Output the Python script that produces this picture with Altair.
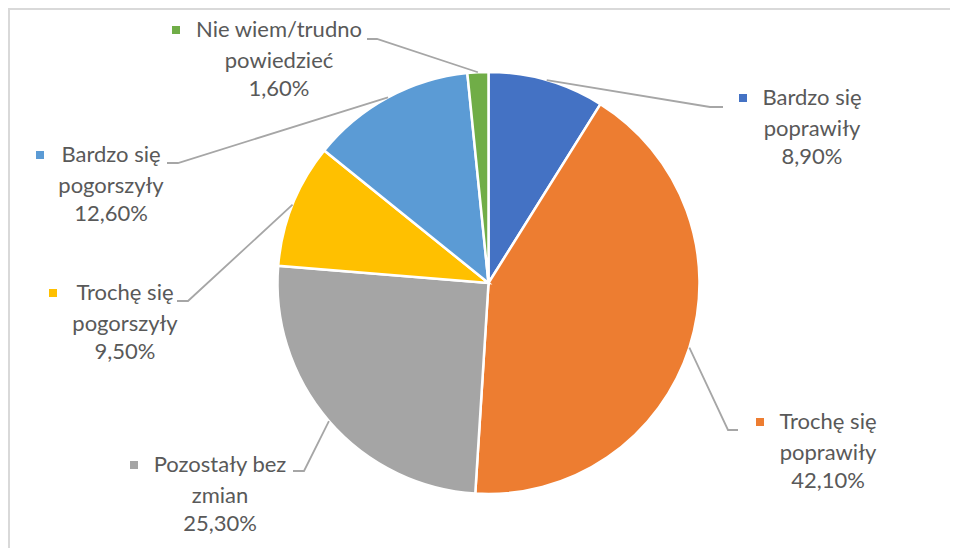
import math
import altair as alt
import pandas as pd

# ---- data ----
categories = ["Bardzo się poprawiły", "Trochę się poprawiły", "Pozostały bez zmian",
              "Trochę się pogorszyły", "Bardzo się pogorszyły", "Nie wiem/trudno powiedzieć"]
name_lines = [["Bardzo się", "poprawiły"], ["Trochę się", "poprawiły"], ["Pozostały bez", "zmian"],
              ["Trochę się", "pogorszyły"], ["Bardzo się", "pogorszyły"], ["Nie wiem/trudno", "powiedzieć"]]
values = [8.9, 42.1, 25.3, 9.5, 12.6, 1.6]
colors = ["#4472C4", "#ED7D31", "#A5A5A5", "#FFC000", "#5B9BD5", "#70AD47"]

# ---- layout (page pixels) ----
M = 8
W, H = 942, 540
CX, CY, R = 488.5, 283, 211
label_cx = [812, 828, 220, 125, 111, 279]
label_y = [98, 422, 465, 293, 155, 30]
marker_x = [743, 760, 134, 53, 40, 176]
elbow = [(710, 107), (728, 430), (304, 471), (188, 301), (178, 163), (377, 39)]
leader_end = [(723, 107), (738, 430), (293, 471), (177, 301), (167, 163), (367, 39)]
line_dy = [0, 31, 59]
FONT = "Lato"
FS = 22
TXT = "#595959"

def pct(v):
    return f"{v:.2f}".replace(".", ",") + "%"

pie_df = pd.DataFrame({"label": categories, "value": values, "idx": list(range(len(values)))})

total = sum(values)
lines_rows, text_rows, marker_rows = [], [], []
cum = 0.0
for i, (cat, v) in enumerate(zip(categories, values)):
    mid = (cum + v / 2) / total * 2 * math.pi
    cum += v
    sx = CX + R * math.sin(mid)
    sy = CY - R * math.cos(mid)
    pts = [(sx, sy), elbow[i], leader_end[i]]
    for s, (px, py) in enumerate(pts):
        lines_rows.append({"label": cat, "seq": s, "x": px, "y": py})
    texts = name_lines[i] + [pct(v)]
    for k, t in enumerate(texts):
        text_rows.append({"label": cat, "text": t, "x": label_cx[i], "y": label_y[i] + line_dy[k]})
    marker_rows.append({"label": cat, "x": marker_x[i], "y": label_y[i]})

lines_df = pd.DataFrame(lines_rows)
text_df = pd.DataFrame(text_rows)
marker_df = pd.DataFrame(marker_rows)

xs = alt.Scale(domain=[M, M + W], nice=False, zero=False)
ys = alt.Scale(domain=[M, M + H], nice=False, zero=False, reverse=True)
cscale = alt.Scale(domain=categories, range=colors)

frame_top = alt.Chart(pd.DataFrame({"a": [0]})).mark_rule(color="#D9D9D9", strokeWidth=2).encode(
    x=alt.value(0), x2=alt.value(W), y=alt.value(1))
frame_left = alt.Chart(pd.DataFrame({"a": [0]})).mark_rule(color="#D9D9D9", strokeWidth=2).encode(
    x=alt.value(1), y=alt.value(0), y2=alt.value(H))

pie = alt.Chart(pie_df).mark_arc(outerRadius=R, stroke="white", strokeWidth=2.5).encode(
    theta=alt.Theta("value:Q", stack=True),
    order=alt.Order("idx:Q"),
    color=alt.Color("label:N", scale=cscale, legend=None),
    x=alt.value(CX - M),
    y=alt.value(CY - M),
)

leaders = alt.Chart(lines_df).mark_line(color="#A6A6A6", strokeWidth=1.8).encode(
    x=alt.X("x:Q", scale=xs, axis=None),
    y=alt.Y("y:Q", scale=ys, axis=None),
    detail="label:N",
    order="seq:Q",
)

markers = alt.Chart(marker_df).mark_square(size=64, opacity=1).encode(
    x=alt.X("x:Q", scale=xs, axis=None),
    y=alt.Y("y:Q", scale=ys, axis=None),
    color=alt.Color("label:N", scale=cscale, legend=None),
)

texts = alt.Chart(text_df).mark_text(font=FONT, fontSize=FS, color=TXT, align="center", baseline="middle").encode(
    x=alt.X("x:Q", scale=xs, axis=None),
    y=alt.Y("y:Q", scale=ys, axis=None),
    text="text:N",
)

chart = alt.layer(frame_top, frame_left, pie, leaders, markers, texts).properties(
    width=W, height=H, padding=0, autosize=alt.AutoSizeParams(type="none"),
    background="white",
).configure_view(stroke=None)

chart.save("out.html", embed_options={"renderer": "svg", "actions": False})
